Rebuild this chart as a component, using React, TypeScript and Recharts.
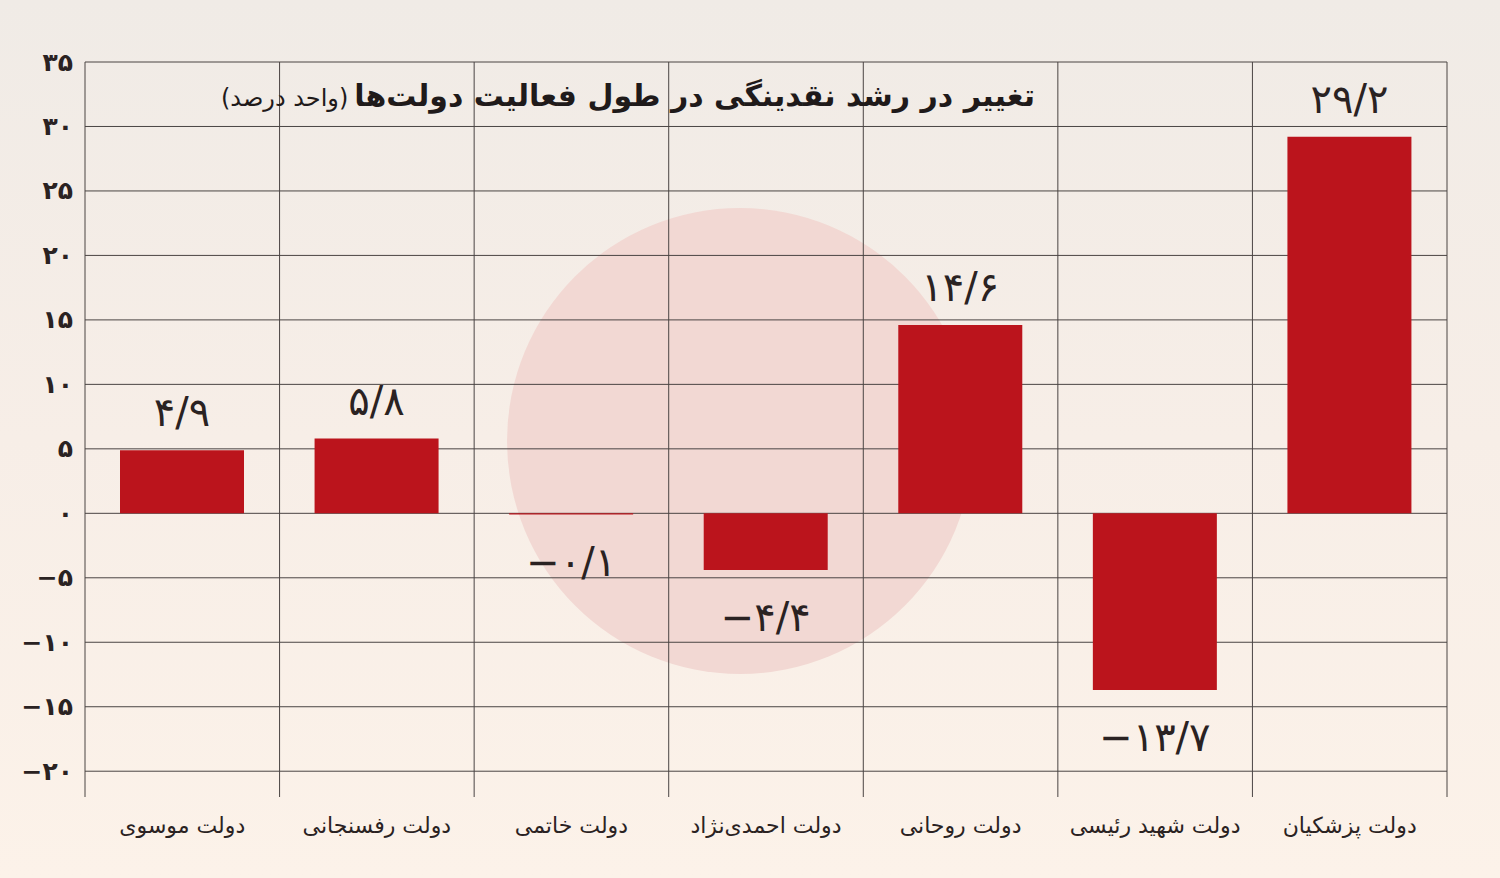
import React from 'react';
import { ComposedChart, Bar, XAxis, YAxis, CartesianGrid, LabelList } from 'recharts';

const categories = [
  'دولت موسوی',
  'دولت رفسنجانی',
  'دولت خاتمی',
  'دولت احمدی‌نژاد',
  'دولت روحانی',
  'دولت شهید رئیسی',
  'دولت پزشکیان',
];
const growthChange = [4.9, 5.8, -0.1, -4.4, 14.6, -13.7, 29.2];
const yTicks = [-20, -15, -10, -5, 0, 5, 10, 15, 20, 25, 30, 35];
const yDomain: [number, number] = [-22, 35];
const titleMain = 'تغییر در رشد نقدینگی در طول فعالیت دولت‌ها';
const titleUnit = '(واحد درصد)';

const data = categories.map((name, i) => ({ name, value: growthChange[i] }));

const FONT = '"DejaVu Sans", sans-serif';
const W = 1500;
const H = 878;
const M = { top: 62, right: 53, bottom: 81, left: 85 };

const faDigits = '۰۱۲۳۴۵۶۷۸۹';
function toFa(v: number | string): string {
  const s = String(v);
  let out = '';
  for (const ch of s) {
    if (ch >= '0' && ch <= '9') out += faDigits[Number(ch)];
    else if (ch === '.') out += '/';
    else if (ch === '-') out += '−';
    else out += ch;
  }
  return out;
}

const YTick = (props: any) => {
  const { x, y, payload } = props;
  return (
    <text x={x} y={y} textAnchor="end" dominantBaseline="central" fontFamily={FONT} fontWeight="bold" fontSize={25} fill="#2a2222">
      {toFa(payload.value)}
    </text>
  );
};

const XTick = (props: any) => {
  const { x, y, payload } = props;
  return (
    <text x={x} y={y + 20} textAnchor="middle" dominantBaseline="central" fontFamily={FONT} fontSize={22} fill="#2a2222">
      {payload.value}
    </text>
  );
};

const ValueLabel = (props: any) => {
  const { x, y, width, height, value } = props;
  const top = Math.min(y, y + height);
  const bottom = Math.max(y, y + height);
  const cx = x + width / 2;
  const cy = value >= 0 ? top - 38 : bottom + 47;
  return (
    <text x={cx} y={cy} textAnchor="middle" dominantBaseline="central" fontFamily={FONT} fontSize={40} fill="#2a2222" direction="ltr">
      {toFa(value)}
    </text>
  );
};

const vGen = (p: any) => {
  const off = p && p.offset ? p.offset : { left: M.left, width: W - M.left - M.right };
  const n = categories.length;
  return Array.from({ length: n + 1 }, (_, i) => off.left + (i * off.width) / n);
};

const hGen = (p: any) => {
  if (p && p.yAxis && p.yAxis.scale && typeof p.yAxis.scale === 'function') {
    return yTicks.map((t) => p.yAxis.scale(t));
  }
  const off = p && p.offset ? p.offset : { top: M.top, height: H - M.top - M.bottom };
  const [lo, hi] = yDomain;
  return yTicks.map((t) => off.top + ((hi - t) / (hi - lo)) * off.height);
};

export default function App() {
  return (
    <div
      style={{
        position: 'fixed',
        left: 0,
        top: 0,
        width: W,
        height: H,
        overflow: 'hidden',
        background: 'linear-gradient(to bottom, #f0ebe6 0%, #f7eee7 50%, #fcf2e9 100%)',
        fontFamily: FONT,
      }}
    >
      <div
        style={{
          position: 'absolute',
          left: 740 - 233,
          top: 441 - 233,
          width: 466,
          height: 466,
          borderRadius: '50%',
          background: '#f2d8d3',
        }}
      />
      <div style={{ position: 'absolute', left: 0, top: 0 }}>
        <ComposedChart width={W} height={H} data={data} margin={{ top: M.top, right: M.right, bottom: M.bottom - 30, left: M.left - 60 }}>
          <CartesianGrid
            stroke="#4a4443"
            strokeWidth={1}
            verticalCoordinatesGenerator={vGen}
            horizontalCoordinatesGenerator={hGen}
          />
          <XAxis dataKey="name" axisLine={false} tickLine={false} tick={<XTick />} height={30} interval={0} />
          <YAxis
            domain={yDomain}
            ticks={yTicks}
            type="number"
            allowDataOverflow
            axisLine={false}
            tickLine={false}
            width={60}
            tickMargin={6}
            tick={<YTick />}
            interval={0}
          />
          <Bar dataKey="value" fill="#bb141c" barSize={124} isAnimationActive={false}>
            <LabelList dataKey="value" content={<ValueLabel />} />
          </Bar>
        </ComposedChart>
      </div>
      <div
        dir="rtl"
        style={{
          position: 'absolute',
          right: W - 1035,
          top: 70,
          whiteSpace: 'nowrap',
          color: '#1f1a1a',
          lineHeight: '52px',
        }}
      >
        <span style={{ fontWeight: 'bold', fontSize: 30 }}>{titleMain}</span>
        <span style={{ fontSize: 24, marginRight: 6 }}>{titleUnit}</span>
      </div>
    </div>
  );
}
